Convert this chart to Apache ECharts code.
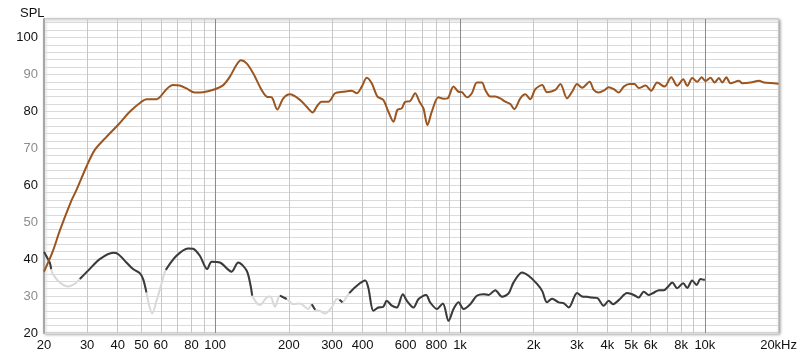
<!DOCTYPE html>
<html>
<head>
<meta charset="utf-8">
<script src="https://cdn.jsdelivr.net/npm/echarts@6/dist/echarts.min.js"></script>
<style>html,body{margin:0;padding:0;background:#fff;}#c{width:800px;height:359px;}</style>
</head>
<body>
<div id="c"></div>
<script>
// Frequency response (SPL) – brown curve
const splFreq = [20,21.7,23.2,25.9,27.1,29.8,32.2,36,40.1,44.8,50,52.4,57.6,59.4,63.3,67.3,71.7,76.4,82.6,89.3,99.8,107.9,114.9,122.3,127.4,134.4,143,154.8,162.3,170.2,179.4,189.8,202,222,236,250,260,272,290,309,334,361,379,397,416,436,460,486,510,535,555,578,597,626,656,683,709,736,767,816,856,889,941,986,1018,1067,1118,1172,1229,1268,1329,1393,1461,1531,1605,1666,1763,1848,1937,2030,2165,2267,2452,2570,2737,2869,3007,3152,3385,3515,3685,3862,4048,4244,4449,4663,4933,5157,5370,5722,6036,6386,6842,7288,7710,8157,8470,8880,9310,9694,10070,10551,10956,11409,11780,12236,12735,13774,14227,15380,16630,17430,19140,20000];
const splDb = [36.6,42.0,47.7,55.9,58.6,65,69.5,73.1,76.3,79.9,82.6,83.3,83.3,83.8,86,87.1,87,86.2,85.1,85.2,86,87.1,89.4,92.6,93.8,93,90.3,85.8,84,83.8,80.5,83.5,84.6,83.1,81.3,79.7,81.3,82.6,82.6,84.9,85.3,85.6,84.9,86.7,89.1,87.6,84,83.1,79.9,77.2,80.4,80.8,82.6,82.8,84.9,82.6,80.8,76.3,79.9,83.8,83.4,83.5,86.7,85.3,85.2,83.8,84.9,87.8,87.8,85.8,84,84,83.5,82.6,82,80.6,83.5,84.6,83.3,86,87.1,85.2,85.8,87.4,83.5,85.3,87.4,86.4,88,85.8,85.1,85.6,86.5,86,85.1,86.7,87.4,87.4,86.3,87,85.6,87.8,86.7,89.2,86.9,88.7,86.9,89,88,89.2,88.2,89.1,87.8,89,87.8,89.2,87.6,88.3,87.6,87.8,88.3,87.8,87.6,87.5];

// Distortion curve – grey; 1 = valid (dark), 0 = below threshold (light)
const thdFreq = [20,20.4,21.1,21.4,21.7,23.2,25.1,26.7,28,30.7,33.8,38.3,40.1,43.4,46.2,49.2,50.8,52.4,53.6,55.3,57.6,60.4,62.9,69.5,77.5,81.3,86.6,92.8,96.7,104.5,116.7,124.2,134.4,139.6,141.7,152.4,162.3,168,175.5,183.9,195.9,208.4,222,240,248,256,268,281,299,314,322,331,342,353,379,410,422,443,464,486,502,527,552,584,607,646,677,727,755,805,851,898,941,986,1034,1101,1172,1248,1308,1393,1484,1579,1655,1791,1906,2063,2165,2267,2377,2529,2651,2779,3007,3152,3304,3463,3630,3862,4048,4220,4449,4815,5124,5370,5630,5903,6188,6487,6800,7022,7360,7710,8157,8470,8880,9250,9600,9910,10000];
const thdDb = [42,40.9,39.1,37.3,36,33.7,32.6,33.3,34.6,37.3,40,41.7,41.4,39.1,37.3,36.2,34.6,31,27.8,25.3,28.7,33.3,37.1,40.9,42.9,42.8,40.9,37.3,39.3,39.1,36.6,39.1,36.9,32.8,30.1,27.6,29.6,29.9,27.1,30.1,29.2,27.8,28,26.5,27.8,26.3,26,25.3,26.9,29.2,29,28.3,29.5,30.8,32.8,34.2,32.3,26,26.9,27.1,28.7,27.4,26.9,30.5,28.7,26.9,29.2,30.3,28.3,26.5,28,23.3,26.5,28.3,26.5,27.8,30.1,30.5,30.3,31.6,29.8,30.7,33.7,36.4,35.5,33.3,31.4,28.3,29.3,28.3,28.1,26.9,30.8,29.9,29.8,29.6,29.5,27.4,28.7,27.8,28.9,30.8,30.3,29.6,31.2,30.3,30.9,31.6,31.6,32.3,33.7,32.1,33.5,32.2,34.2,33,34.6,34.4,34.4];
const thdValid = [1,1,1,1,0,0,0,0,1,1,1,1,1,1,1,1,1,1,0,0,0,0,1,1,1,1,1,1,1,1,1,1,1,1,1,0,0,0,0,1,1,0,0,0,1,1,0,0,0,0,1,1,0,1,1,1,1,1,1,1,1,1,1,1,1,1,1,1,1,1,1,1,1,1,1,1,1,1,1,1,1,1,1,1,1,1,1,1,1,1,1,1,1,1,1,1,1,1,1,1,1,1,1,1,1,1,1,1,1,1,1,1,1,1,1,1,1,1,1,1];

// Axis ticks / labels
const gridFreqs = [20,30,40,50,60,70,80,90,100,200,300,400,500,600,700,800,900,1000,2000,3000,4000,5000,6000,7000,8000,9000,10000,20000];
const labelFreqs = [20,30,40,50,60,80,100,200,300,400,600,800,1000,2000,3000,4000,5000,6000,8000,10000,20000];
const labelTexts = ['20','30','40','50','60','80','100','200','300','400','600','800','1k','2k','3k','4k','5k','6k','8k','10k','20kHz'];

const FONT = 'Liberation Sans, Arial, sans-serif';
const labelMap = {};
labelFreqs.forEach((f, i) => { labelMap[f] = labelTexts[i]; });

const splData = splFreq.map((f, i) => [f, splDb[i]]);
const thdLight = thdFreq.map((f, i) => [f, thdDb[i]]);
const thdDark = thdFreq.map((f, i) => [f, thdValid[i] ? thdDb[i] : '-']);

const L = '#c6c6c6', D = '#8a8a8a';
const chart = echarts.init(document.getElementById('c'), null, {renderer: 'canvas'});
chart.setOption({
  animation: false,
  backgroundColor: '#ffffff',
  title: {text: 'SPL', left: 15, top: 2, textStyle: {fontSize: 13, fontWeight: 'normal', color: '#111', fontFamily: FONT}},
  grid: {left: 44, right: 21, top: 19, bottom: 26, show: true, backgroundColor: '#fff',
         borderColor: '#b4b4b4', borderWidth: 1,
         shadowColor: 'rgba(0,0,0,0.35)', shadowBlur: 3, shadowOffsetX: 1, shadowOffsetY: 1},
  xAxis: {
    type: 'log', logBase: 10, min: 20, max: 20000,
    axisLine: {show: false},
    axisTick: {show: false, customValues: gridFreqs},
    axisLabel: {customValues: labelFreqs, color: '#111', fontSize: 13, fontFamily: FONT, margin: 6,
      formatter: v => { const k = Math.round(v); return labelMap[k] !== undefined ? labelMap[k] : ''; }},
    splitLine: {show: true, lineStyle: {color: [L, L, L, L, L, L, L, L, D], width: 1}}
  },
  yAxis: {
    type: 'value', min: 20, max: 105, interval: 2,
    axisLine: {show: true, lineStyle: {color: '#a8a8a8', width: 2}},
    axisTick: {show: false},
    splitLine: {show: true, lineStyle: {color: '#dadada', width: 1}},
    axisLabel: {fontSize: 13, fontFamily: FONT, margin: 6,
      formatter: v => {
        const r = Math.round(v);
        if (r % 10 !== 0 || r > 100) return '';
        return r % 20 === 0 ? '{d|' + r + '}' : '{g|' + r + '}';
      },
      rich: {d: {color: '#111', fontSize: 13, fontFamily: FONT}, g: {color: '#8c8c8c', fontSize: 13, fontFamily: FONT}}}
  },
  series: [
    {type: 'line', data: thdLight, showSymbol: false, smooth: 0.3, lineStyle: {color: '#d9d9d9', width: 2}, z: 2},
    {type: 'line', data: thdDark, showSymbol: false, smooth: 0.3, connectNulls: false, lineStyle: {color: '#3a3a3a', width: 2}, z: 3},
    {type: 'line', data: splData, showSymbol: false, smooth: 0.3, lineStyle: {color: '#9a5520', width: 2}, z: 4}
  ]
});
</script>
</body>
</html>
